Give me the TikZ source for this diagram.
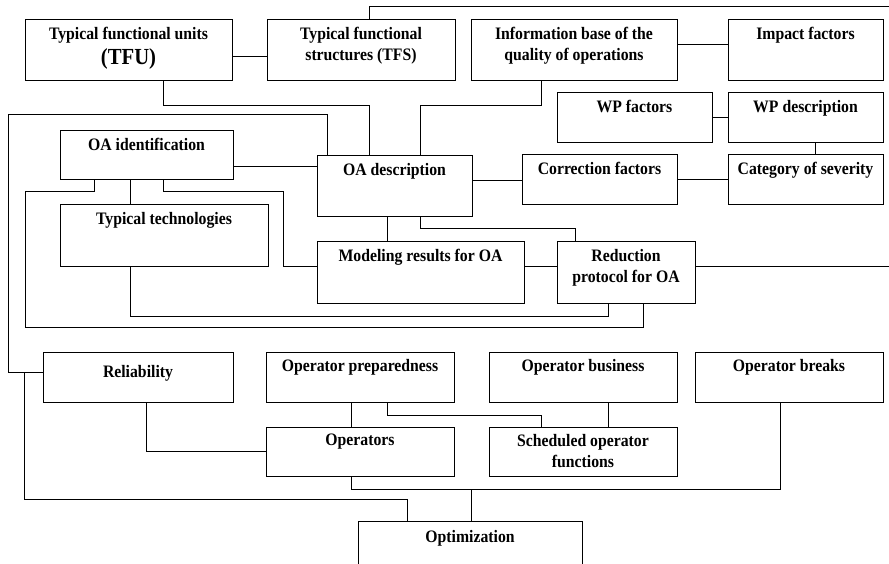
\documentclass[tikz,border=0pt]{standalone}
\usepackage{fontspec}
\setmainfont{Liberation Serif}[FakeStretch=0.9]
\usetikzlibrary{calc}
\begin{document}
\begin{tikzpicture}[x=1pt,y=-1pt,
  box/.style={draw,line width=1pt,inner sep=0pt,outer sep=0pt,rectangle},
  lbl/.style={anchor=north,yshift=-7pt,inner sep=0pt,align=center,
    font=\bfseries\fontsize{17.5}{21}\selectfont},
  conn/.style={line width=1pt}]
\useasboundingbox (0,0) rectangle (889,564);
% boxes
\node[box,minimum width=207,minimum height=61,
  label={[lbl]north:Typical functional units\\[4pt]{\fontsize{23}{24}\selectfont(TFU)}}] (tfu) at (128.5,50.5) {};
\node[box,minimum width=188,minimum height=61,label={[lbl]north:Typical functional\\structures (TFS)}] (tfs) at (361,50.5) {};
\node[box,minimum width=206,minimum height=61,label={[lbl]north:Information base of the\\quality of operations}] (info) at (574,50.5) {};
\node[box,minimum width=155,minimum height=61,label={[lbl]north:Impact factors}] (impact) at (805.5,50.5) {};
\node[box,minimum width=155,minimum height=50,label={[lbl]north:WP factors}] (wpf) at (634.5,118) {};
\node[box,minimum width=155,minimum height=50,label={[lbl]north:WP description}] (wpd) at (805.5,118) {};
\node[box,minimum width=155,minimum height=50,label={[lbl]north:Correction factors}] (corr) at (599.5,180) {};
\node[box,minimum width=155,minimum height=50,label={[lbl]north:Category of severity}] (cat) at (805.5,180) {};
\node[box,minimum width=173,minimum height=49,label={[lbl]north:OA identification}] (oaid) at (146.5,155.5) {};
\node[box,minimum width=155,minimum height=61,label={[lbl]north:OA description}] (oad) at (394.5,186.5) {};
\node[box,minimum width=208,minimum height=61,label={[lbl]north:Typical technologies}] (tech) at (164,235.5) {};
\node[box,minimum width=207,minimum height=61,label={[lbl]north:Modeling results for OA}] (model) at (420.5,272.5) {};
\node[box,minimum width=138,minimum height=61,label={[lbl]north:Reduction\\protocol for OA}] (red) at (626,272.5) {};
\node[box,minimum width=190,minimum height=50,label={[lbl,yshift=-6pt]north:Reliability}] (rel) at (138,377) {};
\node[box,minimum width=188,minimum height=50,label={[lbl]north:Operator preparedness}] (prep) at (360,377) {};
\node[box,minimum width=188,minimum height=50,label={[lbl]north:Operator business}] (bus) at (583,377) {};
\node[box,minimum width=188,minimum height=50,label={[lbl]north:Operator breaks}] (brk) at (789,377) {};
\node[box,minimum width=188,minimum height=49,label={[lbl]north:Operators}] (ops) at (360,451.5) {};
\node[box,minimum width=188,minimum height=49,label={[lbl]north:Scheduled operator\\functions}] (sched) at (583,451.5) {};
\node[box,minimum width=224,minimum height=59,label={[lbl,yshift=-2pt]north:Optimization}] (opt) at (470,550.5) {};
% connectors
\draw[conn] ([yshift=-6.5pt]tfu.east) -- ([yshift=-6.5pt]tfu.east -| tfs.west);
\draw[conn] ([xshift=34.5pt]tfu.south) -- ++(0,25) -| ([xshift=-25.5pt]oad.north);
\draw[conn] ([xshift=-33pt]info.south) -- ++(0,25) -| ([xshift=25.5pt]oad.north);
\draw[conn] ([xshift=-67.5pt]oad.north) -- ++(0,-41) -- ++(-319,0) |- ([yshift=5pt]rel.west);
\draw[conn] ([xshift=-63pt]opt.north) -- ++(0,-22) -| ($([yshift=5pt]rel.west)+(-19,0)$);
\draw[conn] ([xshift=8pt]tfs.north) -- ++(0,-13) -- ++(540,0);
\draw[conn] ([yshift=5.5pt]info.east) -- ([yshift=5.5pt]info.east -| impact.west);
\draw[conn] (wpf) -- (wpd);
\draw[conn] ([xshift=9.5pt]wpd.south) -- ([xshift=9.5pt]cat.north);
\draw[conn] (corr) -- (cat);
\draw[conn] ([yshift=5.5pt]oad.east) -- ([yshift=5.5pt]oad.east -| corr.west);
\draw[conn] ([yshift=-11.5pt]oaid.east) -- ([yshift=-11.5pt]oaid.east -| oad.west);
\draw[conn] ([xshift=-16.5pt]oaid.south) -- ([xshift=-34pt]tech.north);
\draw[conn] ([xshift=-52.5pt]oaid.south) -- ++(0,12) -| ++(-69,135) -| ([xshift=17pt]red.south);
\draw[conn] ([xshift=16.5pt]oaid.south) -- ++(0,12) -- ++(120,0) |- ([yshift=6.5pt]model.west);
\draw[conn] ([xshift=-34pt]tech.south) -- ++(0,50) -| ([xshift=-18pt]red.south);
\draw[conn] ([xshift=-7.5pt]oad.south) -- ([xshift=-33.5pt]model.north);
\draw[conn] ([xshift=25.5pt]oad.south) -- ++(0,12) -| ([xshift=-51pt]red.north);
\draw[conn] ([yshift=6.5pt]model.east) -- ([yshift=6.5pt]red.west);
\draw[conn] ([yshift=6.5pt]red.east) -- ++(210,0);
\draw[conn] ([xshift=8pt]rel.south) |- (ops.west);
\draw[conn] ([xshift=-9pt]prep.south) -- ([xshift=-9pt]ops.north);
\draw[conn] ([xshift=27pt]prep.south) -- ++(0,13) -| ([xshift=-42pt]sched.north);
\draw[conn] ([xshift=25pt]bus.south) -- ([xshift=25pt]sched.north);
\draw[conn] ([xshift=-9pt]ops.south) -- ++(0,13) -| ([xshift=-9pt]brk.south);
\draw[conn] ([xshift=1pt]opt.north) -- ++(0,-32);
\end{tikzpicture}
\end{document}
